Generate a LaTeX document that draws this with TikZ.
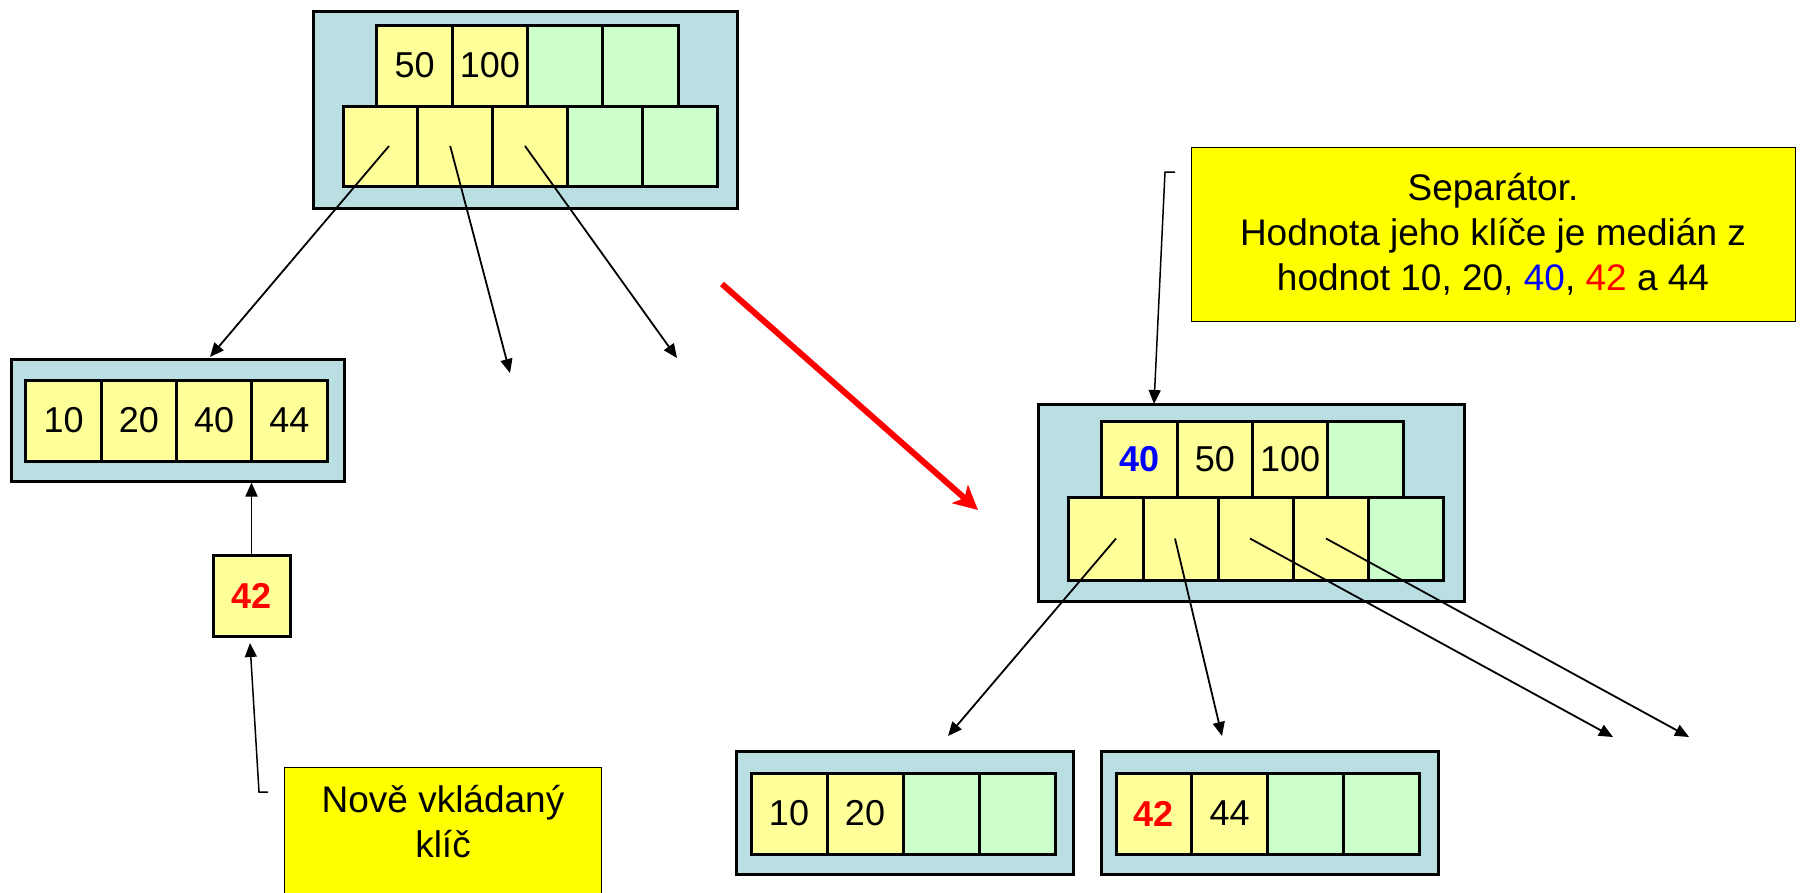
\documentclass[tikz,border=0pt]{standalone}
\usepackage{fontspec}
\setmainfont{Liberation Sans}
\usetikzlibrary{arrows.meta}
\definecolor{nodebg}{RGB}{185,223,227}
\definecolor{usedkey}{RGB}{255,255,153}
\definecolor{freekey}{RGB}{204,255,204}
\definecolor{notebg}{RGB}{255,255,0}
\newcommand{\lowkey}[1]{\raisebox{-6pt}{#1}}
\begin{document}
\begin{tikzpicture}[x=1pt, y=-1pt,
  page/.style={draw, line width=3pt, fill=nodebg, inner sep=0pt},
  key/.style={draw, line width=3pt, fill=usedkey, inner sep=0pt, minimum width=75.3pt, minimum height=81pt, font=\fontsize{36}{43}\selectfont},
  free/.style={key, fill=freekey},
  ptr/.style={draw, line width=1.8pt, -{Triangle[length=14pt,width=12pt]}},
  note/.style={draw, line width=1pt, fill=notebg, inner sep=0pt},
  notetext/.style={align=center, inner sep=0pt, font=\fontsize{37}{45}\selectfont},
  move/.style={draw=red, line width=6pt, -{Stealth[length=24pt,width=24pt,inset=6pt]}}]
\useasboundingbox (0,0) rectangle (1800,892);
% root page
\node[page, minimum width=424pt, minimum height=197pt] (root) at (525,109.5) {};
\node[key] (rk1) at (414.6,65.5) {\lowkey{50}};
\node[key] (rk2) at (489.9,65.5) {\lowkey{100}};
\node[free] (rk3) at (565.1,65.5) {};
\node[free] (rk4) at (640.4,65.5) {};
\node[key, minimum width=74.8pt, minimum height=80pt] (rp1) at (380.4,146) {};
\node[key, minimum width=74.8pt, minimum height=80pt] (rp2) at (455.2,146) {};
\node[key, minimum width=74.8pt, minimum height=80pt] (rp3) at (530,146) {};
\node[free, minimum width=74.8pt, minimum height=80pt] (rp4) at (604.8,146) {};
\node[free, minimum width=74.8pt, minimum height=80pt] (rp5) at (679.6,146) {};
% full leaf
\node[page, minimum width=333pt, minimum height=122pt] (leaf) at (177.5,420) {};
\node[key] (lk1) at (63.6,420.5) {10};
\node[key] (lk2) at (138.9,420.5) {20};
\node[key] (lk3) at (214.1,420.5) {40};
\node[key] (lk4) at (289.4,420.5) {44};
% inserted key
\node[key, minimum width=77pt, font=\fontsize{36}{43}\selectfont\bfseries, text=red] (k42) at (251.5,595.5) {42};
% page after the split
\node[page, minimum width=426pt, minimum height=197pt] (split) at (1251,502.5) {};
\node[key, minimum height=76pt, font=\fontsize{36}{43}\selectfont\bfseries, text=blue] (sk1) at (1139.6,459) {\lowkey{40}};
\node[key, minimum height=76pt] (sk2) at (1214.9,459) {\lowkey{50}};
\node[key, minimum height=76pt] (sk3) at (1290.1,459) {\lowkey{100}};
\node[free, minimum height=76pt] (sk4) at (1365.4,459) {};
\node[key, minimum width=75pt, minimum height=83pt] (sp1) at (1105.5,538.5) {};
\node[key, minimum width=75pt, minimum height=83pt] (sp2) at (1180.5,538.5) {};
\node[key, minimum width=75pt, minimum height=83pt] (sp3) at (1255.5,538.5) {};
\node[key, minimum width=75pt, minimum height=83pt] (sp4) at (1330.5,538.5) {};
\node[free, minimum width=75pt, minimum height=83pt] (sp5) at (1405.5,538.5) {};
% new leaves
\node[page, minimum width=337pt, minimum height=123pt] (lowleaf) at (904.5,812.5) {};
\node[key, minimum width=76pt] (ak1) at (789,813.5) {10};
\node[key, minimum width=76pt] (ak2) at (865,813.5) {20};
\node[free, minimum width=76pt] (ak3) at (941,813.5) {};
\node[free, minimum width=76pt] (ak4) at (1017,813.5) {};
\node[page, minimum width=337pt, minimum height=123pt] (highleaf) at (1269.5,812.5) {};
\node[key, minimum width=75.8pt, font=\fontsize{36}{43}\selectfont\bfseries, text=red] (bk1) at (1153.9,813.5) {42};
\node[key, minimum width=75.8pt] (bk2) at (1229.6,813.5) {44};
\node[free, minimum width=75.8pt] (bk3) at (1305.4,813.5) {};
\node[free, minimum width=75.8pt] (bk4) at (1381.1,813.5) {};
% notes
\node[note, notetext, minimum width=604pt, minimum height=174pt] (sepnote) at (1493,234) {Separátor.\\Hodnota jeho klíče je medián z\\hodnot 10, 20, {\color{blue}40}, {\color{red}42} a 44};
\node[note, anchor=north west, minimum width=317pt, minimum height=160pt] (newnote) at (284,767) {};
\node[notetext, anchor=north] (newtext) at ([yshift=-18pt]newnote.north) {Nově vkládaný\\klíč};
% pointers
\coordinate (ra1) at (210,357);
\coordinate (ra2) at (510,373);
\coordinate (ra3) at (677,358);
\coordinate (sa1) at (948,736);
\coordinate (sa2) at (1222,736);
\coordinate (sa3) at (1613,737);
\coordinate (sa4) at (1689,737);
\draw[ptr] ([xshift=8.6pt]rp1.center) -- (ra1);
\draw[ptr] ([xshift=-5pt]rp2.center) -- (ra2);
\draw[ptr] ([xshift=-5pt]rp3.center) -- (ra3);
\draw[ptr] ([xshift=10.5pt]sp1.center) -- (sa1);
\draw[ptr] ([xshift=-5.5pt]sp2.center) -- (sa2);
\draw[ptr] ([xshift=-5.5pt]sp3.center) -- (sa3);
\draw[ptr] ([xshift=-4.5pt]sp4.center) -- (sa4);
\draw[ptr] (k42.north) -- (k42.north |- leaf.south);
% note lines
\coordinate (sepstart) at (1175,172);
\coordinate (sepbend) at (1165,172);
\coordinate (sepend) at (1154,404);
\draw[ptr, line width=1.5pt] (sepstart) -- (sepbend) -- (sepend);
\coordinate (newstart) at (268,792);
\coordinate (newbend) at (259,792);
\coordinate (newend) at (250,643);
\draw[ptr, line width=1.5pt] (newstart) -- (newbend) -- (newend);
% the split
\coordinate (movefrom) at (722,284);
\coordinate (moveto) at (978,510);
\draw[move] (movefrom) -- (moveto);
\end{tikzpicture}
\end{document}
